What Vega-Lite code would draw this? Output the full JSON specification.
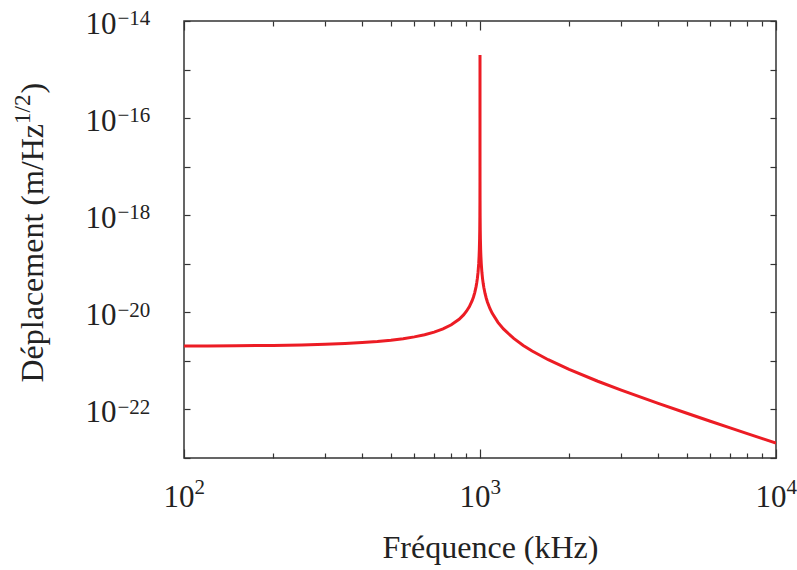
{
  "$schema": "https://vega.github.io/schema/vega-lite/v6.json",
  "width": 592,
  "height": 437,
  "autosize": "none",
  "padding": {"left": 184, "top": 21, "right": 21, "bottom": 112},
  "background": "white",
  "config": {
    "view": {"stroke": "#333333", "strokeWidth": 1.5},
    "axis": {
      "labelFont": "Liberation Serif",
      "titleFont": "Liberation Serif",
      "labelColor": "#222222",
      "titleColor": "#222222",
      "titleFontWeight": "normal",
      "tickColor": "#333333",
      "tickWidth": 1.2,
      "grid": false,
      "domain": false,
      "labelFlush": false,
      "labelOverlap": false,
      "labelBound": false
    }
  },
  "data": {
    "values": [
      {"f": 100, "d": 2.0202e-21},
      {"f": 120, "d": 2.0292e-21},
      {"f": 150, "d": 2.0460e-21},
      {"f": 200, "d": 2.0833e-21},
      {"f": 250, "d": 2.1333e-21},
      {"f": 300, "d": 2.1978e-21},
      {"f": 350, "d": 2.2792e-21},
      {"f": 400, "d": 2.3810e-21},
      {"f": 450, "d": 2.5078e-21},
      {"f": 500, "d": 2.6667e-21},
      {"f": 550, "d": 2.8674e-21},
      {"f": 600, "d": 3.1250e-21},
      {"f": 650, "d": 3.4632e-21},
      {"f": 700, "d": 3.9216e-21},
      {"f": 750, "d": 4.5714e-21},
      {"f": 800, "d": 5.5556e-21},
      {"f": 850, "d": 7.2072e-21},
      {"f": 880, "d": 8.8652e-21},
      {"f": 900, "d": 1.0526e-20},
      {"f": 920, "d": 1.3021e-20},
      {"f": 940, "d": 1.7182e-20},
      {"f": 950, "d": 2.0513e-20},
      {"f": 960, "d": 2.5510e-20},
      {"f": 970, "d": 3.3841e-20},
      {"f": 975, "d": 4.0506e-20},
      {"f": 980, "d": 5.0505e-20},
      {"f": 985, "d": 6.7170e-20},
      {"f": 990, "d": 1.0050e-19},
      {"f": 993, "d": 1.4336e-19},
      {"f": 995, "d": 2.0050e-19},
      {"f": 997, "d": 3.3383e-19},
      {"f": 998, "d": 5.0050e-19},
      {"f": 999, "d": 1.0005e-18},
      {"f": 999.5, "d": 2.0005e-18},
      {"f": 999.8, "d": 5.0005e-18},
      {"f": 999.9, "d": 1.0000e-17},
      {"f": 999.95, "d": 2.0000e-17},
      {"f": 999.99, "d": 1.0000e-16},
      {"f": 999.999, "d": 8.94e-16},
      {"f": 1000, "d": 2.0e-15},
      {"f": 1000.001, "d": 8.94e-16},
      {"f": 1000.01, "d": 1.0000e-16},
      {"f": 1000.05, "d": 2.0000e-17},
      {"f": 1000.1, "d": 1.0000e-17},
      {"f": 1000.2, "d": 4.9995e-18},
      {"f": 1000.5, "d": 1.9995e-18},
      {"f": 1001, "d": 9.995e-19},
      {"f": 1002, "d": 4.995e-19},
      {"f": 1003, "d": 3.3283e-19},
      {"f": 1005, "d": 1.9950e-19},
      {"f": 1007, "d": 1.4236e-19},
      {"f": 1010, "d": 9.9502e-20},
      {"f": 1015, "d": 6.6170e-20},
      {"f": 1020, "d": 4.9505e-20},
      {"f": 1025, "d": 3.9506e-20},
      {"f": 1030, "d": 3.2841e-20},
      {"f": 1040, "d": 2.4510e-20},
      {"f": 1050, "d": 1.9512e-20},
      {"f": 1060, "d": 1.6181e-20},
      {"f": 1080, "d": 1.2019e-20},
      {"f": 1100, "d": 9.5238e-21},
      {"f": 1150, "d": 6.2016e-21},
      {"f": 1200, "d": 4.5455e-21},
      {"f": 1300, "d": 2.8986e-21},
      {"f": 1400, "d": 2.0833e-21},
      {"f": 1500, "d": 1.6000e-21},
      {"f": 1700, "d": 1.0582e-21},
      {"f": 2000, "d": 6.6667e-22},
      {"f": 2500, "d": 3.8095e-22},
      {"f": 3000, "d": 2.5000e-22},
      {"f": 4000, "d": 1.3333e-22},
      {"f": 5000, "d": 8.3333e-23},
      {"f": 6000, "d": 5.7143e-23},
      {"f": 7000, "d": 4.1667e-23},
      {"f": 8000, "d": 3.1746e-23},
      {"f": 9000, "d": 2.5000e-23},
      {"f": 10000, "d": 2.0202e-23}
    ]
  },
  "resolve": {"axis": {"x": "independent", "y": "independent"}},
  "layer": [
    {
      "mark": {"type": "line", "color": "#ec1c24", "strokeWidth": 3, "clip": true},
      "encoding": {
        "x": {
          "field": "f", "type": "quantitative",
          "scale": {"type": "log", "domain": [100, 10000], "nice": false},
          "axis": {
            "orient": "bottom",
            "values": [100, 1000, 10000],
            "ticks": false,
            "labelExpr": "'10'",
            "labelAlign": "right",
            "labelOffset": 10,
            "labelBaseline": "alphabetic",
            "labelPadding": 48,
            "labelFontSize": 31,
            "title": "Fréquence (kHz)",
            "titleFontSize": 32,
            "titleX": 306,
            "titleY": 99,
            "titleAlign": "center",
            "titleBaseline": "alphabetic"
          }
        },
        "y": {
          "field": "d", "type": "quantitative",
          "scale": {"type": "log", "domain": [1e-23, 1e-14], "nice": false},
          "axis": {
            "orient": "left",
            "values": [1e-22, 1e-20, 1e-18, 1e-16, 1e-14],
            "ticks": false,
            "labelExpr": "'10'",
            "labelAlign": "right",
            "labelPadding": 68,
            "labelBaseline": "alphabetic",
            "labelOffset": 12.5,
            "labelFontSize": 31,
            "title": "Déplacement (m/Hz",
            "titleFontSize": 32,
            "titleAngle": -90,
            "titleAlign": "left",
            "titleBaseline": "alphabetic",
            "titleX": -142,
            "titleY": 361
          }
        }
      }
    },
    {
      "mark": {"type": "line", "strokeOpacity": 0},
      "encoding": {
        "x": {
          "field": "f", "type": "quantitative",
          "scale": {"type": "log", "domain": [100, 10000], "nice": false},
          "axis": {
            "orient": "bottom",
            "values": [100, 1000, 10000],
            "ticks": false,
            "labelExpr": "datum.value == 100 ? '2' : datum.value == 1000 ? '3' : '4'",
            "labelAlign": "left",
            "labelOffset": 10,
            "labelBaseline": "alphabetic",
            "labelPadding": 35,
            "labelFontSize": 21,
            "title": null
          }
        },
        "y": {
          "field": "d", "type": "quantitative",
          "scale": {"type": "log", "domain": [1e-23, 1e-14], "nice": false},
          "axis": {
            "orient": "left",
            "values": [1e-22, 1e-20, 1e-18, 1e-16, 1e-14],
            "ticks": false,
            "labelExpr": "'−' + format(-round(log(datum.value) / LN10), 'd')",
            "labelAlign": "left",
            "labelPadding": 67,
            "labelBaseline": "alphabetic",
            "labelOffset": 3.7,
            "labelFontSize": 21,
            "title": "1/2",
            "titleFontSize": 23,
            "titleAngle": -90,
            "titleAlign": "left",
            "titleBaseline": "alphabetic",
            "titleX": -155,
            "titleY": 102.4
          }
        }
      }
    },
    {
      "mark": {"type": "line", "strokeOpacity": 0},
      "encoding": {
        "x": {
          "field": "f", "type": "quantitative",
          "scale": {"type": "log", "domain": [100, 10000], "nice": false},
          "axis": {
            "orient": "bottom",
            "values": [100, 200, 300, 400, 500, 600, 700, 800, 900, 1000, 2000, 3000, 4000, 5000, 6000, 7000, 8000, 9000, 10000],
            "labels": false,
            "tickSize": {"condition": {"test": "datum.value == 100 || datum.value == 1000 || datum.value == 10000", "value": -9}, "value": -5},
            "title": null
          }
        },
        "y": {
          "field": "d", "type": "quantitative",
          "scale": {"type": "log", "domain": [1e-23, 1e-14], "nice": false},
          "axis": {
            "orient": "left",
            "values": [1e-23, 1e-22, 1e-21, 1e-20, 1e-19, 1e-18, 1e-17, 1e-16, 1e-15, 1e-14],
            "labels": false,
            "tickSize": -6,
            "title": ")",
            "titleFontSize": 32,
            "titleAngle": -90,
            "titleAlign": "left",
            "titleBaseline": "alphabetic",
            "titleX": -142,
            "titleY": 72
          }
        }
      }
    },
    {
      "mark": {"type": "line", "strokeOpacity": 0},
      "encoding": {
        "x": {
          "field": "f", "type": "quantitative",
          "scale": {"type": "log", "domain": [100, 10000], "nice": false},
          "axis": {
            "orient": "top",
            "values": [100, 200, 300, 400, 500, 600, 700, 800, 900, 1000, 2000, 3000, 4000, 5000, 6000, 7000, 8000, 9000, 10000],
            "labels": false,
            "tickSize": {"condition": {"test": "datum.value == 100 || datum.value == 1000 || datum.value == 10000", "value": -9}, "value": -5},
            "title": null
          }
        },
        "y": {
          "field": "d", "type": "quantitative",
          "scale": {"type": "log", "domain": [1e-23, 1e-14], "nice": false},
          "axis": {
            "orient": "right",
            "values": [1e-23, 1e-22, 1e-21, 1e-20, 1e-19, 1e-18, 1e-17, 1e-16, 1e-15, 1e-14],
            "labels": false,
            "tickSize": -6,
            "title": null
          }
        }
      }
    }
  ]
}
